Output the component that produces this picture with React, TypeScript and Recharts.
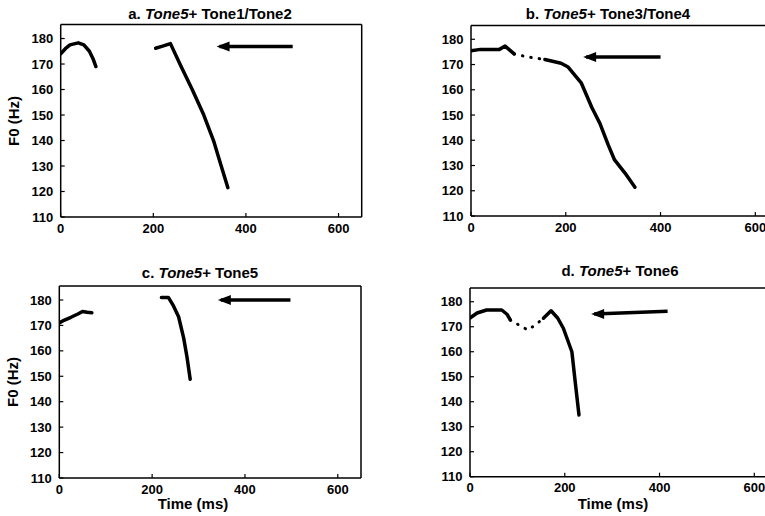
import { LineChart, Line, XAxis, YAxis, ReferenceLine } from "recharts";

const W = 800;
const H = 516;
const FONT = "'Liberation Sans', Arial, Helvetica, sans-serif";

const timeTicks = [0, 200, 400, 600];
const f0Ticks = [110, 120, 130, 140, 150, 160, 170, 180];
const timeDomain = [0, 650];
const f0Domain = [110, 185.5];

// a. Tone5 + Tone1/Tone2  ([ms, Hz])
const aFirst = [[0, 174], [10, 176], [20, 177.5], [38, 178.3], [50, 177.5], [62, 175], [70, 172], [76, 169]];
const aSecond = [[205, 176.2], [220, 177], [237, 178], [260, 169], [284, 160], [309, 150], [330, 140], [345, 131], [361, 121.5]];
const aArrow = [[501, 176.9], [343, 176.9]];

// b. Tone5 + Tone3/Tone4
const bFirst = [[0, 175.5], [20, 176], [40, 176], [60, 176], [72, 177.3], [80, 176], [91, 174.2]];
const bGap = [[91, 174.2], [120, 173], [156, 172]];
const bSecond = [[156, 172], [190, 170.5], [205, 169], [233, 162.6], [255, 153], [272, 146.7], [290, 138], [303, 132.2], [325, 127], [346, 121.4]];
const bArrow = [[400, 173], [243, 173]];

// c. Tone5 + Tone5
const cFirst = [[0, 171], [10, 172], [25, 173.2], [40, 174.5], [50, 175.5], [60, 175.2], [70, 175]];
const cSecond = [[220, 181], [235, 181], [245, 178], [257, 173.4], [268, 165], [275, 157.7], [282, 148.8]];
const cArrow = [[498, 180], [348, 180]];

// d. Tone5 + Tone6
const dFirst = [[0, 173.5], [15, 175.5], [35, 176.7], [67, 176.7], [78, 175], [85, 172.7]];
const dGap = [[85, 172.7], [105, 170.5], [122, 168.7], [140, 171], [155, 173.4]];
const dSecond = [[155, 173.4], [171, 176.4], [185, 173.5], [197, 169.4], [215, 160], [222, 148], [230, 134.7]];
const dArrow = [[417, 176.2], [262, 175.1]];

const rows = (pts: number[][]) => pts.map(([t, f]) => ({ t, f }));

const tickStyle = { fill: "#000", fontSize: 13, fontWeight: 700, fontFamily: FONT };

const ArrowHead = (props: any) => {
	const { cx, cy, index } = props;
	if (index !== 1 || cx == null) return <g key={`n-${index}`} />;
	return (
		<polygon
			key="head"
			points={`${cx - 3},${cy} ${cx + 10},${cy - 5} ${cx + 10},${cy + 5}`}
			fill="#000"
		/>
	);
};

type Box = { x0: number; y0: number; x1: number; y1: number };

function Panel({ box, solid, dotted, arrow }: { box: Box; solid: number[][][]; dotted: number[][][]; arrow: number[][] }) {
	return (
		<div style={{ position: "absolute", left: 0, top: 0 }}>
			<LineChart width={W} height={H} margin={{ top: box.y0, right: W - box.x1, bottom: 0, left: 0 }}>
				<XAxis
					type="number"
					dataKey="t"
					domain={timeDomain}
					ticks={timeTicks}
					interval={0}
					height={H - box.y1}
					tickSize={-4}
					tickMargin={10.5}
					axisLine={{ stroke: "#000", strokeWidth: 1.5 }}
					tickLine={{ stroke: "#000", strokeWidth: 1.2 }}
					tick={tickStyle}
					allowDataOverflow
				/>
				<YAxis
					type="number"
					dataKey="f"
					domain={f0Domain}
					ticks={f0Ticks}
					interval={0}
					width={box.x0}
					tickSize={-4}
					tickMargin={11.5}
					axisLine={{ stroke: "#000", strokeWidth: 1.5 }}
					tickLine={{ stroke: "#000", strokeWidth: 1.2 }}
					tick={tickStyle}
					allowDataOverflow
				/>
				<ReferenceLine y={185.5} stroke="#000" strokeWidth={1.5} />
				<ReferenceLine x={650} stroke="#000" strokeWidth={1.5} />
				{solid.map((s, i) => (
					<Line
						key={`s${i}`}
						data={rows(s)}
						dataKey="f"
						type="linear"
						stroke="#000"
						strokeWidth={3.5}
						strokeLinecap="round"
						strokeLinejoin="round"
						dot={false}
						isAnimationActive={false}
					/>
				))}
				{dotted.map((s, i) => (
					<Line
						key={`d${i}`}
						data={rows(s)}
						dataKey="f"
						type="linear"
						stroke="#000"
						strokeWidth={3}
						strokeDasharray="0.5 8"
						strokeLinecap="round"
						dot={false}
						isAnimationActive={false}
					/>
				))}
				<Line
					data={rows(arrow)}
					dataKey="f"
					type="linear"
					stroke="#000"
					strokeWidth={3.5}
					dot={ArrowHead}
					activeDot={false}
					isAnimationActive={false}
				/>
			</LineChart>
		</div>
	);
}

function Txt({ x, y, children, rotate }: { x: number; y: number; children: any; rotate?: boolean }) {
	return (
		<div
			style={{
				position: "absolute",
				left: x,
				top: y,
				transform: `translate(-50%, -50%)${rotate ? " rotate(-90deg)" : ""}`,
				whiteSpace: "nowrap",
				fontFamily: FONT,
				fontWeight: 700,
				fontSize: 15,
				color: "#000",
				lineHeight: 1,
			}}
		>
			{children}
		</div>
	);
}

export default function App() {
	return (
		<div style={{ position: "absolute", left: 0, top: 0, width: 765, height: 516, overflow: "hidden", background: "#fff" }}>
			<Panel box={{ x0: 60.7, y0: 24.5, x1: 361.7, y1: 217 }} solid={[aFirst, aSecond]} dotted={[]} arrow={aArrow} />
			<Panel box={{ x0: 471, y0: 25.4, x1: 779, y1: 216 }} solid={[bFirst, bSecond]} dotted={[bGap]} arrow={bArrow} />
			<Panel box={{ x0: 59.3, y0: 286, x1: 361, y1: 478 }} solid={[cFirst, cSecond]} dotted={[]} arrow={cArrow} />
			<Panel box={{ x0: 470, y0: 288, x1: 778, y1: 476.7 }} solid={[dFirst, dSecond]} dotted={[dGap]} arrow={dArrow} />

			<Txt x={210} y={13}>a. <i>Tone5</i>+ Tone1/Tone2</Txt>
			<Txt x={608} y={13}>b. <i>Tone5</i>+ Tone3/Tone4</Txt>
			<Txt x={200} y={271.5}>c. <i>Tone5</i>+ Tone5</Txt>
			<Txt x={620} y={270}>d. <i>Tone5</i>+ Tone6</Txt>

			<Txt x={13} y={121} rotate>F0 (Hz)</Txt>
			<Txt x={12} y={381.5} rotate>F0 (Hz)</Txt>
			<Txt x={193} y={503}>Time (ms)</Txt>
			<Txt x={613} y={503}>Time (ms)</Txt>
		</div>
	);
}
